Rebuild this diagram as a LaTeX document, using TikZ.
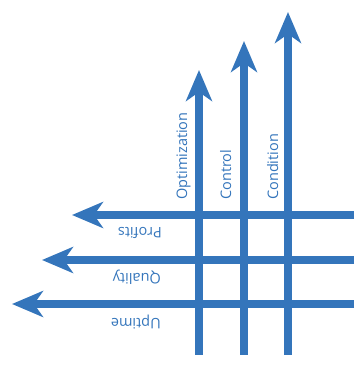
\documentclass[tikz,border=0pt]{standalone}
\usepackage{fontspec}
\setmainfont{Open Sans}
\usetikzlibrary{arrows.meta}
\definecolor{ablue}{RGB}{52,117,187}
\begin{document}
\begin{tikzpicture}[x=1pt,y=1pt,
  axis/.style={draw=ablue, line width=8.5pt, -{Stealth[length=31pt,width=26pt,inset=9pt]}},
  lab/.style={text=ablue, font=\fontsize{14.5}{17}\selectfont, anchor=base west, inner sep=0pt},
  vlab/.style={lab, rotate=90},
  hlab/.style={lab, rotate=180}]
\useasboundingbox (0,0) rectangle (354,369);
% vertical axes
\coordinate (v1s) at (199,14); \coordinate (v1e) at (199,299);
\coordinate (v2s) at (244,14); \coordinate (v2e) at (244,328);
\coordinate (v3s) at (288,14); \coordinate (v3e) at (288,357);
% horizontal axes
\coordinate (h1s) at (354,154); \coordinate (h1e) at (72,154);
\coordinate (h2s) at (354,109); \coordinate (h2e) at (42,109);
\coordinate (h3s) at (354,65);  \coordinate (h3e) at (12,65);
\draw[axis] (v1s) -- (v1e);
\draw[axis] (v2s) -- (v2e);
\draw[axis] (v3s) -- (v3e);
\draw[axis] (h1s) -- (h1e);
\draw[axis] (h2s) -- (h2e);
\draw[axis] (h3s) -- (h3e);
% labels
\node[vlab] (opt) at (187,169) {Optimization};
\node[vlab] (ctl) at (231,169) {Control};
\node[vlab] (cnd) at (278,169) {Condition};
\node[hlab] (pro) at (162,141) {Profits};
\node[hlab] (qua) at (161,95) {Quality};
\node[hlab] (upt) at (161,51) {Uptime};
\end{tikzpicture}
\end{document}
